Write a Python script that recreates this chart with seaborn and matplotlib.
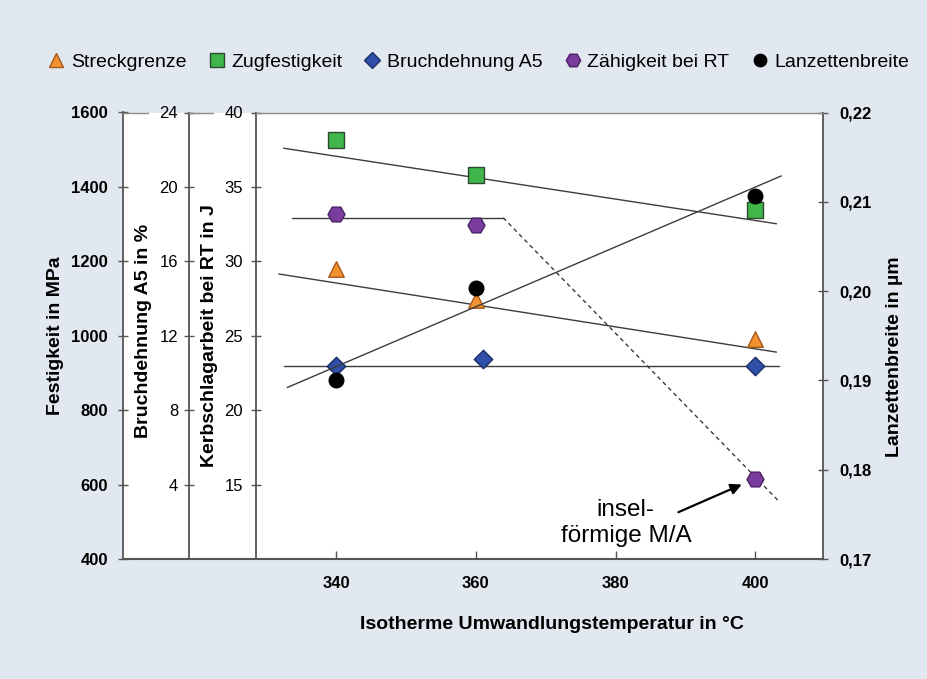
import numpy as np
import matplotlib.pyplot as plt
from matplotlib.lines import Line2D
from matplotlib.ticker import FuncFormatter
import seaborn as sns

sns.set_theme(style="white")
plt.rcParams['font.family'] = ['Liberation Sans', 'DejaVu Sans']
plt.rcParams['text.color'] = 'black'
plt.rcParams['axes.labelcolor'] = 'black'

# measured values
temps = [340, 360, 400]
temps_bruch = [340, 361, 400]
streckgrenze = [1180, 1095, 992]       # MPa
zugfestigkeit = [1525, 1433, 1337]     # MPa
bruchdehnung = [10.38, 10.74, 10.36]   # %
zaehigkeit = [33.2, 32.46, 15.37]      # J
lanzette = [0.1900, 0.2004, 0.2107]    # µm

# hand drawn trend lines (start / end)
zug_trend_t, zug_trend = [332.5, 403.0], [1504, 1301]
streck_trend_t, streck_trend = [331.8, 403.0], [1166, 956]
bruch_trend_t, bruch_trend = [332.6, 403.3], [10.38, 10.38]
zaeh_trend_t, zaeh_trend = [333.7, 363.9], [32.93, 32.93]
zaeh_drop_t, zaeh_drop = [363.9, 403.3], [32.93, 13.9]
lanz_trend_t, lanz_trend = [333.0, 403.7], [0.1892, 0.2129]

x_ticks = [340, 360, 380, 400]
festigkeit_ticks = [400, 600, 800, 1000, 1200, 1400, 1600]
bruch_ticks = [4, 8, 12, 16, 20, 24]
kerb_ticks = [15, 20, 25, 30, 35, 40]
lanz_ticks = [0.17, 0.18, 0.19, 0.20, 0.21, 0.22]

BG = '#e1e8f0'
AX = '#555555'
LINE = '#3c3c3c'

W, H = 927, 679
fig = plt.figure(figsize=(W / 100, H / 100), dpi=100, facecolor=BG)

x_left, x_right, y_top, y_bot = 255.7, 823.3, 112.5, 559.0
x_fest, x_bruch = 122.7, 189.3

# white plot background incl. the area of the stacked left axes
bg = fig.add_axes([x_fest / W, 1 - y_bot / H, (x_right - x_fest) / W, (y_bot - y_top) / H])
bg.set_facecolor('white')
bg.set_xticks([]); bg.set_yticks([])
for s in ['left', 'right', 'top']:
    bg.spines[s].set_visible(False)
bg.spines['bottom'].set_color(AX)
bg.spines['bottom'].set_linewidth(1.5)

# top border pieces (gaps behind the top tick labels)
for a, b in [(x_fest, 148), (x_bruch, 213), (x_left, x_right)]:
    fig.add_artist(Line2D([a / W, b / W], [1 - y_top / H] * 2, transform=fig.transFigure,
                          color='#8a8a8a', lw=1.0))

ax = fig.add_axes([x_left / W, 1 - y_bot / H, (x_right - x_left) / W, (y_bot - y_top) / H])
ax.patch.set_visible(False)
ax_f = ax.twinx()
ax_b = ax.twinx()
ax_l = ax.twinx()

width = x_right - x_left
for a in [ax, ax_f, ax_b, ax_l]:
    for s in a.spines.values():
        s.set_visible(False)
        s.set_color(AX)
        s.set_linewidth(1.3)
ax.spines['left'].set_visible(True)
for a, px in [(ax_f, x_fest), (ax_b, x_bruch)]:
    a.spines['left'].set_visible(True)
    a.spines['left'].set_position(('axes', (px - x_left) / width))
    a.yaxis.tick_left()
    a.yaxis.set_label_position('left')
ax_l.spines['right'].set_visible(True)

# trend lines
ax_f.plot(zug_trend_t, zug_trend, color=LINE, lw=1.0)
ax_f.plot(streck_trend_t, streck_trend, color=LINE, lw=1.0)
ax_b.plot(bruch_trend_t, bruch_trend, color=LINE, lw=1.0)
ax.plot(zaeh_trend_t, zaeh_trend, color=LINE, lw=1.0)
ax.plot(zaeh_drop_t, zaeh_drop, color=LINE, lw=1.0, ls=(0, (3, 2.5)))
ax_l.plot(lanz_trend_t, lanz_trend, color=LINE, lw=1.0)

# markers
styles = {
    'Streckgrenze': dict(marker='^', color='#f39230', edgecolor='#a8581a', s=125),
    'Zugfestigkeit': dict(marker='s', color='#3fb54a', edgecolor='#2c4a2c', s=130),
    'Bruchdehnung A5': dict(marker='D', color='#2f4fa8', edgecolor='#1c2c66', s=88),
    'Zähigkeit bei RT': dict(marker='H', color='#7a3d9e', edgecolor='#4a2266', s=150),
    'Lanzettenbreite': dict(marker='o', color='black', edgecolor='black', s=110),
}
sns.scatterplot(x=temps, y=streckgrenze, ax=ax_f, linewidth=1, zorder=5, **styles['Streckgrenze'])
sns.scatterplot(x=temps, y=zugfestigkeit, ax=ax_f, linewidth=1, zorder=5, **styles['Zugfestigkeit'])
sns.scatterplot(x=temps_bruch, y=bruchdehnung, ax=ax_b, linewidth=1, zorder=5, **styles['Bruchdehnung A5'])
sns.scatterplot(x=temps, y=zaehigkeit, ax=ax, linewidth=1, zorder=5, **styles['Zähigkeit bei RT'])
sns.scatterplot(x=temps, y=lanzette, ax=ax_l, linewidth=1, zorder=5, **styles['Lanzettenbreite'])

# scales
ax.set_xlim(328.5, 409.7)
ax.set_ylim(10, 40)
ax_f.set_ylim(400, 1600)
ax_b.set_ylim(0, 24)
ax_l.set_ylim(0.17, 0.22)

tick_kw = dict(width=1, color=AX, labelcolor='black')
ax.set_xticks(x_ticks, [str(t) for t in x_ticks], fontweight='bold', fontsize=12)
ax.tick_params(axis='x', direction='in', length=6, pad=12, bottom=True, **tick_kw)
ax.set_yticks(kerb_ticks, [str(t) for t in kerb_ticks], fontsize=12)
ax.tick_params(axis='y', direction='inout', length=7, pad=5.5, left=True, **tick_kw)
ax_f.set_yticks(festigkeit_ticks, [str(t) for t in festigkeit_ticks], fontweight='bold', fontsize=12)
ax_f.tick_params(axis='y', direction='inout', length=7, pad=7, left=True, right=False, **tick_kw)
ax_b.set_yticks(bruch_ticks, [str(t) for t in bruch_ticks], fontsize=12)
ax_b.tick_params(axis='y', direction='inout', length=7, pad=4.5, left=True, right=False, **tick_kw)
ax_l.set_yticks(lanz_ticks)
ax_l.yaxis.set_major_formatter(FuncFormatter(lambda v, p: f"{v:.2f}".replace('.', ',')))
ax_l.tick_params(axis='y', direction='inout', length=7, pad=8, labelsize=12, **tick_kw)
for t in ax_l.get_yticklabels():
    t.set_fontweight('bold')

# axis titles
lab = dict(fontsize=14, fontweight='bold', color='black')
ax.set_xlabel('Isotherme Umwandlungstemperatur in °C', **lab)
ax.xaxis.set_label_coords(0.522, -0.128)
ax_f.set_ylabel('Festigkeit in MPa', **lab)
ax_f.yaxis.set_label_coords(-0.338, 0.5)
ax_b.set_ylabel('Bruchdehnung A5 in %', **lab)
ax_b.yaxis.set_label_coords(-0.183, 0.51)
ax.set_ylabel('Kerbschlagarbeit bei RT in J', **lab)
ax.yaxis.set_label_coords(-0.066, 0.5)
ax_l.set_ylabel('Lanzettenbreite in µm', **lab)
ax_l.yaxis.set_label_coords(1.11, 0.452)

# annotation
ax.text(381.45, 12.42, 'insel-\nförmige M/A', ha='center', va='center', fontsize=17.5)
ax.annotate('', xy=(398.4, 15.08), xytext=(388.6, 13.07),
            arrowprops=dict(arrowstyle='-|>', color='black', lw=1.6, mutation_scale=16))

# legend
handles = [Line2D([], [], ls='', marker=st['marker'], markerfacecolor=st['color'],
                  markeredgecolor=st['edgecolor'], markersize=np.sqrt(st['s']) * 0.85)
           for st in styles.values()]
fig.legend(handles, list(styles.keys()), loc='center', bbox_to_anchor=(0.516, 0.909), ncol=5,
           frameon=False, fontsize=14, handlelength=0.9, handletextpad=0.3,
           columnspacing=1.1, borderaxespad=0)

fig.savefig('out.png', dpi=100, facecolor=BG)
